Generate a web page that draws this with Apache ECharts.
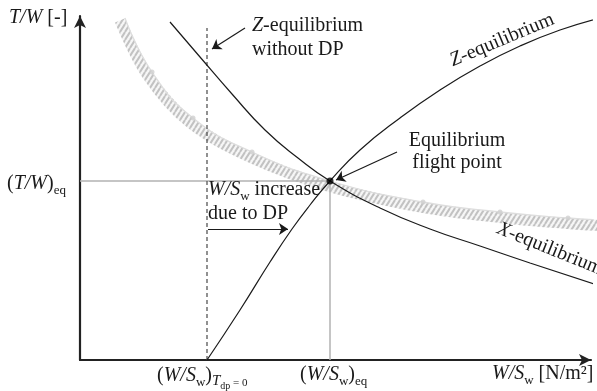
<!DOCTYPE html>
<html><head><meta charset="utf-8">
<script src="https://cdn.jsdelivr.net/npm/echarts@6/dist/echarts.min.js"></script>
<style>html,body{margin:0;padding:0;background:#fff}#c{width:597px;height:391px}</style>
</head><body><div id="c"></div>
<script>
// ---- data (abstract units: x to the right of the y axis, y above the x axis) ----
const zEquilibrium = [[127,0],[160,50],[190,98],[212,131],[230,155],[250,179],[280,210],[320,242],[360,270],[400,294],[440,314],[480,330],[520,342]];
const xEquilibrium = [[90,338],[120,303],[152,266],[185,230],[218,202],[250,179],[300,152],[350,131],[400,114],[450,97],[520,74]];
const constraintEdge = [[45,342],[72,288],[113,242],[172,208],[250,179],[343,158],[420,148],[488,142],[520,140]];
const constraintMarkers = [[72,288],[113,242],[172,208],[343,158],[420,148],[488,142]];
const eqPoint = [250,179];
const wsNoDP = 127;
const dashedTop = 332;
const arrowNoDP = [[165,332],[132,311]];
const arrowEq = [[317,208],[256,180]];
const arrowIncrease = [[128,131],[208,131]];
const xMax = 511, yMax = 344;

const serif = '"Liberation Serif","Times New Roman",serif';
const ink = '#1a1a1a';

function makeHatch(){
  const c = document.createElement('canvas'); c.width = 5; c.height = 8;
  const g = c.getContext('2d');
  g.fillStyle = '#f6f6f6'; g.fillRect(0,0,5,8);
  g.strokeStyle = '#c2c2c2'; g.lineWidth = 2;
  [-5,0,5].forEach(dx => { g.beginPath(); g.moveTo(dx,8); g.lineTo(dx+5,0); g.stroke(); });
  return c;
}
const hatch = {image: makeHatch(), repeat: 'repeat'};

const rich = {
  i:  {fontStyle:'italic', fontSize:20, fontFamily:serif, fill:ink, lineHeight:24},
  s:  {fontSize:13, fontFamily:serif, fill:ink, padding:[14,0,0,0], lineHeight:24},
  ti: {fontStyle:'italic', fontSize:15, fontFamily:serif, fill:ink, padding:[10,0,0,0], lineHeight:24},
  ss: {fontSize:10, fontFamily:serif, fill:ink, padding:[20,0,0,0], lineHeight:24},
  s2: {fontSize:11, fontFamily:serif, fill:ink, padding:[14,0,0,0], lineHeight:24}
};
function txt(text, x, y, extra){
  return Object.assign({
    type:'text', x:x, y:y, z:100, silent:true,
    style: Object.assign({text:text, rich:rich, fontSize:20, fontFamily:serif, fill:ink, lineHeight:24, align:'left', verticalAlign:'top'}, (extra&&extra.style)||{})
  }, extra ? {rotation: extra.rotation||0} : {});
}

const chart = echarts.init(document.getElementById('c'), null, {renderer:'canvas'});
const axisCommon = {
  type:'value', min:0,
  axisTick:{show:false}, axisLabel:{show:false}, splitLine:{show:false},
  axisLine:{show:true, symbol:['none','arrow'], symbolSize:[9,12], lineStyle:{color:'#222', width:2.2}}
};
chart.setOption({
  animation:false,
  backgroundColor:'#fff',
  grid:{left:80, top:16, right:6, bottom:31},
  xAxis: Object.assign({}, axisCommon, {max:xMax}),
  yAxis: Object.assign({}, axisCommon, {max:yMax}),
  series:[
    { type:'custom', coordinateSystem:'cartesian2d', data:constraintEdge, clip:false, silent:true, z:1,
      renderItem:function(params, api){
        if (params.dataIndex !== 0) return null;
        const pts = constraintEdge.map(p => api.coord(p));
        const half = 5.5;
        const center = pts.map((p,i) => {
          const a = pts[Math.max(0,i-1)], b = pts[Math.min(pts.length-1,i+1)];
          let tx = b[0]-a[0], ty = b[1]-a[1]; const L = Math.hypot(tx,ty); tx/=L; ty/=L;
          return [p[0]-ty*half, p[1]+tx*half];
        });
        return {type:'polyline', shape:{points:center, smooth:0.35}, style:{stroke:hatch, lineWidth:11, fill:null, lineCap:'butt'}};
      }
    },
    { type:'line', data:constraintEdge, smooth:true, showSymbol:false, clip:false, silent:true, z:2,
      lineStyle:{color:'#dedede', width:1.3} },
    { type:'scatter', data:constraintMarkers, symbolSize:5, silent:true, z:2, itemStyle:{color:'#d0d0d0'} },
    { type:'line', data:[[0,eqPoint[1]], eqPoint, [eqPoint[0],0]], showSymbol:false, silent:true, z:3,
      lineStyle:{color:'#b2b2b2', width:1.5} },
    { type:'line', data:[[wsNoDP,0],[wsNoDP,dashedTop]], showSymbol:false, silent:true, z:3,
      lineStyle:{color:'#555', width:1.3, type:[4,3]} },
    { type:'line', data:zEquilibrium, smooth:true, showSymbol:false, clip:false, silent:true, z:4,
      lineStyle:{color:ink, width:1.2} },
    { type:'line', data:xEquilibrium, smooth:true, showSymbol:false, clip:false, silent:true, z:4,
      lineStyle:{color:ink, width:1.2} },
    { type:'scatter', data:[eqPoint], symbolSize:7, silent:true, z:6, itemStyle:{color:'#000'} },
    { type:'line', data:[], silent:true, z:5,
      markLine:{ silent:true, symbol:['none','arrow'], symbolSize:9, label:{show:false},
        lineStyle:{color:ink, width:1.2, type:'solid'}, animation:false,
        data:[arrowNoDP, arrowEq, arrowIncrease].map(a => [{coord:a[0]},{coord:a[1]}]) } }
  ],
  graphic:[
    txt('{i|T/W} [-]', 9, 6),
    txt('({i|T/W}){s|eq}', 7, 172),
    txt('({i|W/S}{s|w}){ti|T}{ss|dp}{s2| = 0}', 157, 364),
    txt('({i|W/S}{s|w}){s|eq}', 300, 363),
    txt('{i|W/S}{s|w} [N/m²]', 492, 362),
    txt('{i|Z}-equilibrium\nwithout DP', 252, 14),
    txt('Equilibrium\nflight point', 457, 130, {style:{align:'center', lineHeight:22}}),
    txt('{i|W/S}{s|w} increase\ndue to DP', 208, 178),
    txt('{i|Z}-equilibrium', 502, 40, {rotation:0.396, style:{align:'center', verticalAlign:'middle'}}),
    txt('{i|X}-equilibrium', 550, 249, {rotation:-0.384, style:{align:'center', verticalAlign:'middle'}})
  ]
});
</script></body></html>
